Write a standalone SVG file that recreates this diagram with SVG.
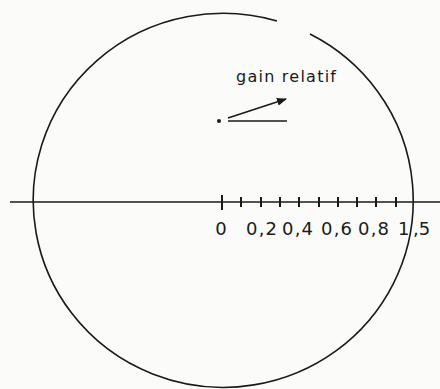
<svg xmlns="http://www.w3.org/2000/svg" width="440" height="389" viewBox="0 0 440 389">
<style>
.ln{stroke:#1a1a1a;fill:none;stroke-width:1.6}
.tk{stroke:#1a1a1a;stroke-width:2}
.lb{font-family:"DejaVu Sans","Liberation Sans",sans-serif;font-size:18px;fill:#1a1a1a}
.gl{font-family:"DejaVu Sans","Liberation Sans",sans-serif;font-size:16px;fill:#1a1a1a}
</style>
<defs>
<marker id="ah" markerWidth="10" markerHeight="8" refX="9" refY="4" orient="auto" markerUnits="userSpaceOnUse">
<path d="M0,0 L10,4 L0,8 Z" fill="#1a1a1a"/>
</marker>
</defs>
<rect width="440" height="389" fill="#fbfbfa"/>
<g id="circle">
<path class="ln" d="M310,34 A190,187 0 1 1 277,21"/>
</g>
<g id="axis">
<line class="ln" x1="10" y1="202" x2="440" y2="202" stroke-width="2"/>
<line class="tk" x1="222" y1="195" x2="222" y2="210"/>
<line class="tk" x1="241" y1="197" x2="241" y2="207"/>
<line class="tk" x1="261" y1="197" x2="261" y2="207"/>
<line class="tk" x1="280" y1="197" x2="280" y2="207"/>
<line class="tk" x1="299" y1="197" x2="299" y2="207"/>
<line class="tk" x1="319" y1="197" x2="319" y2="207"/>
<line class="tk" x1="338" y1="197" x2="338" y2="207"/>
<line class="tk" x1="357" y1="197" x2="357" y2="207"/>
<line class="tk" x1="376" y1="197" x2="376" y2="207"/>
<line class="tk" x1="396" y1="197" x2="396" y2="207"/>
</g>
<g id="labels">
<text class="lb" x="221" y="235" text-anchor="middle">0</text>
<text class="lb" x="246" y="235" textLength="31" lengthAdjust="spacing">0,2</text>
<text class="lb" x="282" y="235" textLength="31" lengthAdjust="spacing">0,4</text>
<text class="lb" x="321" y="235" textLength="31" lengthAdjust="spacing">0,6</text>
<text class="lb" x="358" y="235" textLength="31" lengthAdjust="spacing">0,8</text>
<text class="lb" x="398" y="235">1</text>
<text class="lb" x="413" y="235">,5</text>
</g>
<g id="gain">
<circle cx="219" cy="121" r="2" fill="#1a1a1a"/>
<line class="ln" x1="228" y1="121" x2="287" y2="121"/>
<line class="ln" x1="228" y1="118" x2="286" y2="99" marker-end="url(#ah)"/>
<text class="gl" x="236" y="82" textLength="100" lengthAdjust="spacing">gain relatif</text>
</g>
</svg>
